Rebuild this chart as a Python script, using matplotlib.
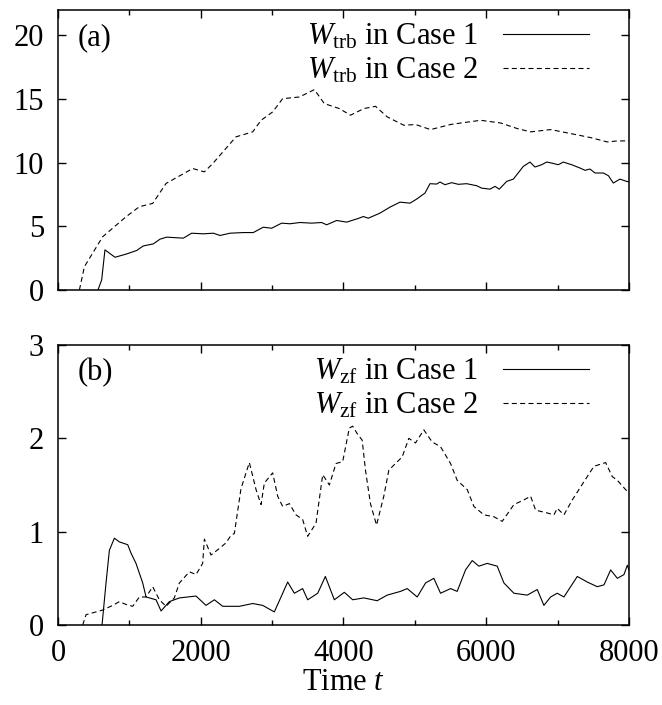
import matplotlib
matplotlib.use("Agg")
import matplotlib.pyplot as plt
from matplotlib.ticker import MultipleLocator

plt.rcParams['font.family'] = 'Liberation Serif'
plt.rcParams['mathtext.fontset'] = 'custom'
plt.rcParams['mathtext.rm'] = 'Liberation Serif'
plt.rcParams['mathtext.it'] = 'Liberation Serif:italic'
plt.rcParams['font.size'] = 22
plt.rcParams['axes.linewidth'] = 1.1

# (a) turbulence energy
t_trb1 = [560, 612, 658, 799, 962, 1102, 1195, 1335, 1429, 1523, 1756, 1873,
          2036, 2176, 2270, 2410, 2596, 2736, 2876, 2994, 3134, 3250, 3390, 3554,
          3694, 3764, 3904, 4044, 4208, 4278, 4348, 4512, 4652, 4792, 4932, 5025,
          5142, 5212, 5306, 5352, 5422, 5516, 5609, 5726, 5866, 5936, 6053, 6123,
          6183, 6287, 6380, 6520, 6613, 6683, 6777, 6847, 6917, 7010, 7080, 7197,
          7314, 7384, 7454, 7524, 7641, 7711, 7781, 7874, 7967, 8000]
w_trb1 = [0.0, 0.79, 3.15, 2.57, 2.83, 3.10, 3.46, 3.62, 3.99, 4.15, 4.07, 4.46,
          4.41, 4.46, 4.28, 4.46, 4.51, 4.51, 4.93, 4.85, 5.25, 5.20, 5.30, 5.25,
          5.30, 5.12, 5.46, 5.33, 5.62, 5.77, 5.64, 6.04, 6.51, 6.90, 6.82, 7.14,
          7.61, 8.35, 8.32, 8.48, 8.27, 8.43, 8.30, 8.35, 8.19, 8.00, 7.92, 8.14,
          7.92, 8.53, 8.71, 9.71, 10.05, 9.66, 9.84, 10.05, 9.97, 9.84, 10.05, 9.84,
          9.58, 9.40, 9.50, 9.19, 9.19, 8.98, 8.40, 8.71, 8.53, 8.50]
t_trb2 = [300, 370, 626, 953, 1140, 1327, 1514, 1887, 2051, 2168, 2494, 2728,
          2845, 3008, 3148, 3382, 3592, 3732, 3942, 4098, 4285, 4449, 4612, 4846,
          5009, 5220, 5500, 5687, 5921, 6201, 6435, 6622, 6902, 7182, 7463, 7696,
          7837, 8000]
w_trb2 = [0.0, 1.83, 4.18, 5.75, 6.54, 6.8, 8.37, 9.54, 9.28, 9.93, 12.03, 12.42,
          13.33, 13.99, 15.03, 15.16, 15.74, 14.64, 14.25, 13.73, 14.25, 14.43, 13.6, 12.94,
          13.0, 12.6, 13.0, 13.15, 13.33, 13.12, 12.68, 12.42, 12.6, 12.29, 11.97, 11.63,
          11.71, 11.71]

# (b) zonal flow energy
t_zf1 = [617, 673, 720, 790, 860, 977, 1023, 1093, 1187, 1234, 1374, 1444,
         1560, 1701, 1934, 2074, 2191, 2308, 2541, 2728, 2868, 3031, 3125, 3218,
         3312, 3428, 3498, 3639, 3746, 3872, 4012, 4129, 4285, 4472, 4612, 4799,
         4893, 5033, 5150, 5266, 5360, 5500, 5593, 5710, 5804, 5897, 6014, 6154,
         6248, 6388, 6575, 6715, 6808, 6902, 6995, 7089, 7276, 7416, 7556, 7650,
         7743, 7837, 7930, 7977, 8000]
w_zf1 = [0.0, 0.45, 0.80, 0.93, 0.89, 0.86, 0.77, 0.66, 0.45, 0.30, 0.27, 0.15,
         0.25, 0.29, 0.31, 0.21, 0.27, 0.20, 0.20, 0.23, 0.21, 0.14, 0.30, 0.46,
         0.34, 0.39, 0.27, 0.34, 0.52, 0.27, 0.35, 0.27, 0.29, 0.26, 0.32, 0.36,
         0.39, 0.30, 0.45, 0.50, 0.34, 0.39, 0.36, 0.59, 0.69, 0.63, 0.66, 0.63,
         0.45, 0.34, 0.32, 0.38, 0.21, 0.30, 0.34, 0.30, 0.52, 0.46, 0.41, 0.43,
         0.59, 0.50, 0.54, 0.64, 0.59]
t_zf2 = [346, 393, 486, 626, 767, 860, 953, 1047, 1140, 1234, 1327, 1420,
         1514, 1630, 1701, 1841, 1934, 2027, 2051, 2144, 2261, 2354, 2424, 2471,
         2564, 2681, 2775, 2845, 2891, 3008, 3078, 3148, 3242, 3335, 3428, 3498,
         3615, 3709, 3802, 3895, 3989, 4082, 4129, 4192, 4262, 4308, 4378, 4463,
         4565, 4636, 4729, 4822, 4916, 5009, 5126, 5243, 5360, 5500, 5593, 5734,
         5827, 5967, 6107, 6224, 6388, 6528, 6622, 6692, 6855, 6949, 6995, 7089,
         7206, 7323, 7509, 7673, 7766, 7837, 8000]
w_zf2 = [0.0, 0.11, 0.13, 0.16, 0.21, 0.25, 0.22, 0.20, 0.30, 0.30, 0.41, 0.27,
         0.20, 0.29, 0.45, 0.57, 0.54, 0.66, 0.92, 0.75, 0.82, 0.88, 0.96, 0.98,
         1.46, 1.74, 1.45, 1.29, 1.52, 1.63, 1.38, 1.27, 1.30, 1.18, 1.13, 0.95,
         1.09, 1.61, 1.50, 1.73, 1.75, 2.11, 2.13, 2.05, 1.98, 1.66, 1.30, 1.07,
         1.38, 1.66, 1.73, 1.80, 2.00, 1.95, 2.09, 1.96, 1.91, 1.73, 1.55, 1.45,
         1.27, 1.18, 1.16, 1.11, 1.29, 1.34, 1.38, 1.23, 1.20, 1.18, 1.25, 1.18,
         1.34, 1.48, 1.70, 1.74, 1.59, 1.55, 1.41]

dash = (0, (4.5, 3))

fig = plt.figure(figsize=(6.62, 7.05), dpi=100)
ax1 = fig.add_axes([0.0876, 0.5887, 0.8625, 0.3972])
ax2 = fig.add_axes([0.0876, 0.1135, 0.8625, 0.3972])

panels = [
    (ax1, t_trb1, w_trb1, t_trb2, w_trb2, r'$W_{\mathrm{trb}}$', 22, 5, '(a)'),
    (ax2, t_zf1, w_zf1, t_zf2, w_zf2, r'$W_{\mathrm{zf}}$', 3, 1, '(b)'),
]
for ax, ta, wa, tb, wb, sym, ymax, ystep, tag in panels:
    l1, = ax.plot(ta, wa, color='black', lw=0.8)
    l2, = ax.plot(tb, wb, color='black', lw=0.8, linestyle=dash)
    ax.set_xlim(0, 8000)
    ax.set_ylim(0, ymax)
    ax.xaxis.set_major_locator(MultipleLocator(2000))
    ax.xaxis.set_minor_locator(MultipleLocator(1000))
    ax.yaxis.set_major_locator(MultipleLocator(ystep))
    ax.tick_params(which='both', direction='in', top=True, right=True, width=1.0)
    ax.tick_params(which='major', length=6, pad=10)
    ax.tick_params(which='minor', length=3.5)
    ax.tick_params(axis='y', which='minor', left=False, right=False)
    ax.legend([l1, l2], [sym + ' in Case 1', sym + ' in Case 2'],
              loc='upper right', bbox_to_anchor=(0.930, 0.957),
              frameon=False, markerfirst=False, handlelength=2.82,
              handletextpad=0.8, labelspacing=0.15, borderpad=0, borderaxespad=0)
    ax.text(0.035, 0.90, tag, transform=ax.transAxes, va='center', ha='left')

ax1.tick_params(labelbottom=False)
ax2.set_xlabel('Time $t$', labelpad=0)

fig.savefig('out.png', dpi=100)
